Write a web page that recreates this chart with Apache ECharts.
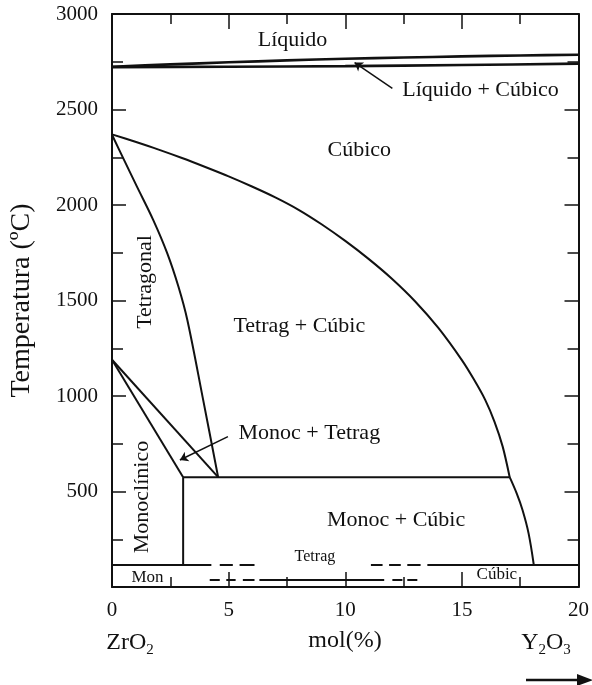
<!DOCTYPE html>
<html>
<head>
<meta charset="utf-8">
<script src="https://cdn.jsdelivr.net/npm/echarts@6/dist/echarts.min.js"></script>
<style>
  html, body { margin: 0; padding: 0; background: #fff; }
  #chart { width: 592px; height: 685px; }
</style>
</head>
<body>
<div id="chart"></div>
<script>
// ZrO2 – Y2O3 phase diagram (composition in mol % Y2O3, temperature in °C)

// Tick labels shown on the axes
const molTicks = [0, 5, 10, 15, 20];
const tempTicks = [500, 1000, 1500, 2000, 2500, 3000];

// Phase boundaries as [mol %, °C]
const liquidus = [[0, 2724], [2.5, 2736], [5, 2747], [7.5, 2757], [10, 2766], [12.5, 2772], [15, 2778], [17.5, 2783], [20, 2787]];
const solidus = [[0, 2722], [5, 2724], [10, 2727], [15, 2733], [20, 2740]];
const cubicBoundaryHigh = [[0, 2370], [1, 2331], [2, 2290], [3, 2246], [4, 2199], [5, 2150], [6, 2097],
  [7, 2040], [8, 1975], [9, 1898], [10, 1812], [11, 1718], [12, 1614], [13, 1495], [14, 1355],
  [15, 1188], [15.5, 1090], [16, 980], [16.4, 865], [16.75, 735], [17.05, 575]];
const cubicBoundaryLow = [[17.05, 575], [17.35, 490], [17.6, 403], [17.86, 281], [18.08, 119]];
const tetragonalBoundary = [[0, 2368], [0.5, 2240], [1.07, 2096], [1.77, 1921], [2.37, 1747], [2.85, 1572], [3.23, 1398], [3.9, 985], [4.55, 575]];
const monoTetragUpper = [[0, 1190], [4.55, 575]];
const monoTetragLower = [[0, 1190], [3.05, 575]];
const monoclinicEdge = [[3.05, 575], [3.05, 119]];
const eutectoid = [[3.05, 575], [17.05, 575]];

// Low-temperature strip: segments [from mol %, to mol %] at a fixed temperature
const stripUpperTemp = 119;
const stripUpperSegs = [[0, 4.26], [4.62, 5.18], [5.47, 6.11], [11.1, 11.6], [11.88, 12.38], [12.66, 13.23], [13.52, 20]];
const stripLowerTemp = 37;
const stripLowerSegs = [[4.19, 4.62], [4.9, 5.3], [5.61, 6.11], [6.32, 11.67], [12.02, 12.45], [12.66, 13.09]];

// Leader arrows [from, to] in [mol %, °C]
const liquidPointer = [[12.02, 2611], [10.4, 2746]];
const monocPointer = [[4.97, 787], [2.91, 665]];

// Phase-field labels and their anchor points
const regionNames = ['Líquido', 'Líquido + Cúbico', 'Cúbico', 'Tetragonal', 'Tetrag + Cúbic', 'Monoc + Tetrag', 'Monoc + Cúbic', 'Monoclínico', 'Mon', 'Tetrag', 'Cúbic'];
const regionMol = [7.74, 15.8, 10.6, 1.41, 8.03, 8.46, 12.18, 1.28, 1.52, 8.7, 16.5];
const regionTemp = [2864, 2602, 2288, 1597, 1363, 806, 351, 471, 50, 157, 63];

const FONT = '"Liberation Serif", "Times New Roman", serif';
const INK = '#111';

// Per-label text styling
const labelStyle = {
  'Tetragonal': { rotate: 90 },
  'Monoclínico': { rotate: 90 },
  'Mon': { fontSize: 17 },
  'Tetrag': { fontSize: 16 },
  'Cúbic': { fontSize: 17 }
};

function curve(data, width, smooth) {
  return {
    type: 'line', data: data, symbol: 'none', showSymbol: false,
    smooth: smooth || 0,
    lineStyle: { color: INK, width: width }, silent: true, z: 3, clip: true
  };
}

function segments(list, temp) {
  return list.map(function (s) { return { coords: [[s[0], temp], [s[1], temp]] }; });
}

const axisLineStyle = { color: INK, width: 2 };
const tickStyle = { color: INK, width: 1.5 };

function xAxisDef(position, showLabels) {
  return {
    type: 'value', position: position, min: 0, max: 20, interval: 5,
    axisLine: { show: true, onZero: false, lineStyle: axisLineStyle },
    axisTick: { show: true, inside: true, length: 15, lineStyle: tickStyle },
    minorTick: { show: true, splitNumber: 2, length: 10, lineStyle: tickStyle },
    splitLine: { show: false }, minorSplitLine: { show: false },
    axisLabel: {
      show: showLabels, fontSize: 21, color: INK, fontFamily: FONT, margin: 13,
      showMaxLabel: true, showMinLabel: true,
      formatter: function (v) { return molTicks.indexOf(v) >= 0 ? String(v) : ''; }
    }
  };
}

function yAxisDef(position, showLabels) {
  const def = {
    type: 'value', position: position, min: 0, max: 3000, interval: 500,
    axisLine: { show: true, onZero: false, lineStyle: axisLineStyle },
    axisTick: { show: true, inside: true, length: 14, lineStyle: tickStyle },
    minorTick: { show: true, splitNumber: 2, length: 11, lineStyle: tickStyle },
    splitLine: { show: false }, minorSplitLine: { show: false },
    axisLabel: {
      show: showLabels, fontSize: 21, color: INK, fontFamily: FONT, margin: 14,
      formatter: function (v) { return tempTicks.indexOf(v) >= 0 ? String(v) : ''; }
    }
  };
  if (showLabels) {
    def.name = 'Temperatura (ºC)';
    def.nameLocation = 'middle';
    def.nameRotate = 90;
    def.nameGap = 76;
    def.nameTextStyle = { fontSize: 28, color: INK, fontFamily: FONT };
  }
  return def;
}

const labelData = regionNames.map(function (name, i) {
  const st = labelStyle[name] || {};
  return {
    name: name,
    value: [regionMol[i], regionTemp[i]],
    label: { rotate: st.rotate || 0, fontSize: st.fontSize || 22 }
  };
});

const chart = echarts.init(document.getElementById('chart'), null, { renderer: 'canvas' });

chart.setOption({
  backgroundColor: '#fff',
  animation: false,
  grid: { left: 112, right: 12, top: 14, bottom: 98, containLabel: false },
  xAxis: [xAxisDef('bottom', true), xAxisDef('top', false)],
  yAxis: [yAxisDef('left', true), yAxisDef('right', false)],
  series: [
    curve(liquidus, 2.6, 0.3),
    curve(solidus, 2.6, 0.3),
    curve(cubicBoundaryHigh, 2, 0.3),
    curve(cubicBoundaryLow, 2, 0.35),
    curve(tetragonalBoundary, 2, 0.35),
    curve(monoTetragUpper, 2, 0),
    curve(monoTetragLower, 2, 0),
    curve(monoclinicEdge, 2, 0),
    curve(eutectoid, 2, 0),
    {
      type: 'lines', coordinateSystem: 'cartesian2d', polyline: false, silent: true, z: 3,
      symbol: 'none', lineStyle: { color: INK, width: 2, opacity: 1, curveness: 0 },
      data: segments(stripUpperSegs, stripUpperTemp).concat(segments(stripLowerSegs, stripLowerTemp))
    },
    {
      type: 'lines', coordinateSystem: 'cartesian2d', polyline: false, silent: true, z: 4,
      symbol: ['none', 'arrow'], symbolSize: 8,
      lineStyle: { color: INK, width: 1.5, opacity: 1, curveness: 0 },
      data: [{ coords: liquidPointer }, { coords: monocPointer }]
    },
    {
      type: 'scatter', data: labelData, symbolSize: 0, silent: true, z: 5,
      itemStyle: { opacity: 1 },
      label: {
        show: true, position: 'inside', color: INK, fontFamily: FONT, opacity: 1,
        textBorderWidth: 0,
        formatter: function (p) { return p.name; }
      }
    }
  ],
  graphic: [
    {
      type: 'text', x: 130, y: 643,
      style: {
        text: '{m|ZrO}{s|2}', align: 'center', verticalAlign: 'middle',
        rich: {
          m: { fontSize: 24, fontFamily: FONT, fill: INK, lineHeight: 30, verticalAlign: 'middle' },
          s: { fontSize: 15, fontFamily: FONT, fill: INK, lineHeight: 15, verticalAlign: 'bottom' }
        }
      }
    },
    {
      type: 'text', x: 345, y: 641,
      style: { text: 'mol(%)', fontSize: 24, fontFamily: FONT, fill: INK, align: 'center', verticalAlign: 'middle' }
    },
    {
      type: 'text', x: 546, y: 643,
      style: {
        text: '{m|Y}{s|2}{m|O}{s|3}', align: 'center', verticalAlign: 'middle',
        rich: {
          m: { fontSize: 24, fontFamily: FONT, fill: INK, lineHeight: 30, verticalAlign: 'middle' },
          s: { fontSize: 15, fontFamily: FONT, fill: INK, lineHeight: 15, verticalAlign: 'bottom' }
        }
      }
    },
    {
      type: 'line', shape: { x1: 526, y1: 680, x2: 580, y2: 680 },
      style: { stroke: INK, lineWidth: 2.5 }
    },
    {
      type: 'polygon', shape: { points: [[577, 674], [593, 680], [577, 686]] },
      style: { fill: INK }
    }
  ]
});
</script>
</body>
</html>
